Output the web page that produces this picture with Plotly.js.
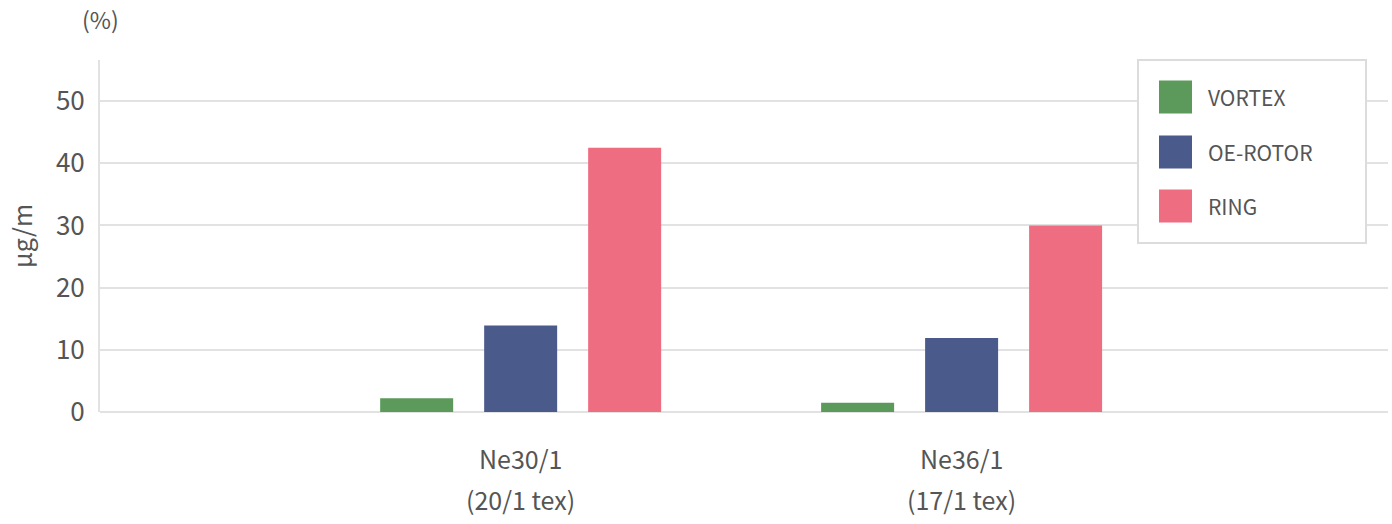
<!DOCTYPE html>
<html>
<head>
<meta charset="utf-8">
<script src="https://cdn.plot.ly/plotly-3.0.1.min.js"></script>
<style>
    body { margin: 0; background: #fff; }
    #chart { width: 1392px; height: 524px; }
</style>
</head>
<body>
<div id="chart"></div>
<script>
// data
const categories = ["Ne30/1", "Ne36/1"]
const subLabels = ["(20/1 tex)", "(17/1 tex)"]
const seriesNames = ["VORTEX", "OE-ROTOR", "RING"]
const vortex = [2.2, 1.5]
const oeRotor = [13.9, 11.9]
const ring = [42.5, 30.0]
const yTicks = [0, 10, 20, 30, 40, 50]

const colors = ["#5b9a5a", "#4a5a8b", "#ee6d81"]
const textColor = "#555555"
const gridColor = "#e2e2e2"
const fontFamily = "'Noto Sans CJK JP', 'Noto Sans', sans-serif"

// plot area in pixels (for legend placement)
const plotLeft = 100, plotRight = 1388, plotTop = 60, plotBottom = 412
const px = (x) => (x - plotLeft) / (plotRight - plotLeft)
const py = (y) => (plotBottom - y) / (plotBottom - plotTop)

let allValues = [vortex, oeRotor, ring]
let plotData = allValues.map((vals, i) => ({
    type: 'bar',
    x: categories,
    y: vals,
    name: seriesNames[i],
    marker: { color: colors[i] },
    showlegend: false,
    hoverinfo: 'x+y+name'
}))

// hand-drawn legend with big swatches
let shapes = [{
    type: 'rect', xref: 'paper', yref: 'paper',
    x0: px(1138), x1: px(1366), y0: py(243), y1: py(60),
    line: { color: '#dcdcdc', width: 2 },
    fillcolor: '#ffffff'
}]
let annotations = []
let legendY = [97, 152, 206]
seriesNames.forEach((name, i) => {
    shapes.push({
        type: 'rect', xref: 'paper', yref: 'paper',
        x0: px(1159), x1: px(1192), y0: py(legendY[i] + 16.5), y1: py(legendY[i] - 16.5),
        line: { width: 0 },
        fillcolor: colors[i]
    })
    annotations.push({
        xref: 'paper', yref: 'paper', x: px(1206), y: py(legendY[i]),
        xanchor: 'left', yanchor: 'middle', showarrow: false,
        text: name,
        font: { size: 21, color: textColor, family: fontFamily }
    })
})

// category labels, two lines each
categories.forEach((cat, i) => {
    annotations.push({
        xref: 'x', yref: 'paper', x: cat, y: py(458),
        xanchor: 'center', yanchor: 'middle', showarrow: false,
        text: cat,
        font: { size: 25, color: textColor, family: fontFamily }
    })
    annotations.push({
        xref: 'x', yref: 'paper', x: cat, y: py(499),
        xanchor: 'center', yanchor: 'middle', showarrow: false,
        text: subLabels[i],
        font: { size: 25, color: textColor, family: fontFamily }
    })
})

annotations.push({
    xref: 'paper', yref: 'paper', x: px(100), y: py(19),
    xanchor: 'center', yanchor: 'middle', showarrow: false,
    text: '(%)',
    font: { size: 23, color: textColor, family: fontFamily }
})

let plotLayout = {
    width: 1392,
    height: 524,
    margin: { l: plotLeft, r: 1392 - plotRight, t: plotTop, b: 524 - plotBottom, pad: 0 },
    paper_bgcolor: '#ffffff',
    plot_bgcolor: '#ffffff',
    font: { family: fontFamily, color: textColor, size: 24 },
    barmode: 'group',
    bargap: 0.2925,
    bargroupgap: 0.298,
    showlegend: false,
    xaxis: {
        type: 'category',
        range: [-0.954, 1.967],
        showgrid: false,
        showline: false,
        ticks: '',
        showticklabels: false
    },
    yaxis: {
        range: [0, 56.6],
        tickvals: yTicks,
        gridcolor: gridColor,
        gridwidth: 2,
        zeroline: true,
        zerolinecolor: gridColor,
        zerolinewidth: 2,
        showline: true,
        linecolor: gridColor,
        linewidth: 2,
        ticks: '',
        ticklabelstandoff: 8,
        tickfont: { size: 26, color: textColor },
        title: { text: 'μg/m', font: { size: 25, color: textColor }, standoff: 16 }
    },
    shapes: shapes,
    annotations: annotations
}

Plotly.newPlot('chart', plotData, plotLayout, { displayModeBar: false, staticPlot: true })
</script>
</body>
</html>
